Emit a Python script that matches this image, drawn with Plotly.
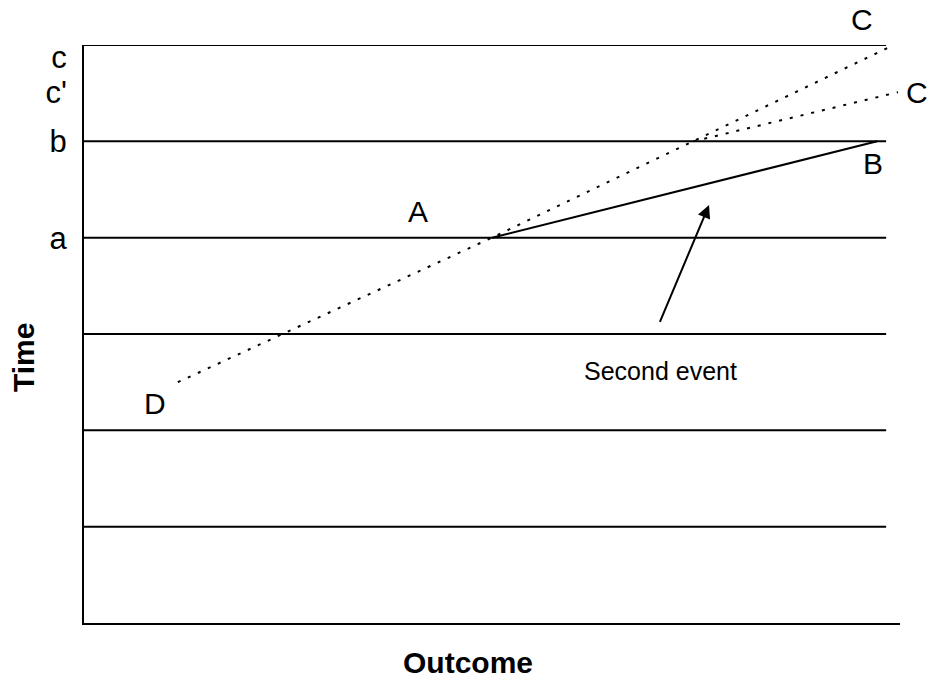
import plotly.graph_objects as go

# time levels drawn as horizontal rules (top one closes the frame)
time_levels = [1, 2, 3, 4, 5, 6]
grid_end = 9.83

# y-axis labels
tick_vals = [4, 5, 5.51, 5.87]
tick_text = ["a", "b", "c'", "c"]

# dotted path D -> A -> C (upper)
path_dca_x = [1.15, 5.0, 9.85]
path_dca_y = [2.5, 4.0, 5.97]

# dotted branch to the lower C
path_c2_x = [7.47, 9.975]
path_c2_y = [5.0, 5.51]

# solid second event A -> B
path_ab_x = [5.0, 9.72]
path_ab_y = [4.0, 5.0]

# point labels
label_text = ["C", "C", "B", "A", "D"]
label_x = [9.53, 10.21, 9.67, 4.09, 0.87]
label_y = [6.26, 5.51, 4.765, 4.267, 2.28]

X_MAX, Y_MAX = 10, 6
FONT = "Arial, Liberation Sans, sans-serif"
dotted = dict(color="black", width=2, dash="3px,8px")

fig = go.Figure()
fig.add_trace(go.Scatter(x=path_dca_x, y=path_dca_y, mode="lines", line=dotted,
                         hoverinfo="skip"))
fig.add_trace(go.Scatter(x=path_c2_x, y=path_c2_y, mode="lines", line=dotted,
                         hoverinfo="skip"))
fig.add_trace(go.Scatter(x=path_ab_x, y=path_ab_y, mode="lines",
                         line=dict(color="black", width=2), hoverinfo="skip"))

for lvl in time_levels:
    fig.add_shape(type="line", xref="x", yref="y", x0=0, x1=grid_end, y0=lvl, y1=lvl,
                  line=dict(color="black", width=2), layer="below")

# some labels sit outside the axis ranges, so place them in paper units
for t, x, y in zip(label_text, label_x, label_y):
    fig.add_annotation(x=x / X_MAX, y=y / Y_MAX, xref="paper", yref="paper", text=t,
                       showarrow=False, xanchor="center", yanchor="middle", borderpad=0,
                       font=dict(size=30, color="black", family=FONT))

fig.add_annotation(x=7.06, y=2.62, xref="x", yref="y", text="Second event",
                   showarrow=False, font=dict(size=25, color="black", family=FONT))

# arrow pointing at the second event line
fig.add_annotation(x=7.66, y=4.34, ax=7.05, ay=3.11, xref="x", yref="y",
                   axref="x", ayref="y", text="", showarrow=True, arrowhead=2,
                   arrowsize=1.3, arrowwidth=2, arrowcolor="black")

fig.add_annotation(x=0.4706, y=-0.068, xref="paper", yref="paper", text="<b>Outcome</b>",
                   showarrow=False, xanchor="center", yanchor="middle",
                   font=dict(size=30, color="black", family=FONT))
fig.add_annotation(x=-0.0735, y=0.4585, xref="paper", yref="paper", text="<b>Time</b>",
                   textangle=-90, showarrow=False, xanchor="center", yanchor="middle",
                   font=dict(size=30, color="black", family=FONT))

fig.update_layout(
    width=932, height=686,
    margin=dict(l=84, r=32, t=45, b=63),
    paper_bgcolor="white", plot_bgcolor="white",
    showlegend=False,
    font=dict(family=FONT, color="black"),
)
fig.update_xaxes(range=[0, X_MAX], showgrid=False, zeroline=False, showticklabels=False,
                 showline=True, linecolor="black", linewidth=2, ticks="")
fig.update_yaxes(range=[0, Y_MAX], showgrid=False, zeroline=False, showline=True,
                 linecolor="black", linewidth=2, ticks="", tickmode="array",
                 tickvals=tick_vals, ticktext=tick_text, ticklabelstandoff=9,
                 tickfont=dict(size=31, color="black", family=FONT))

# drop the page's default body margin so the figure sits at the window corner
fig.write_html("out.html", config={"displayModeBar": False},
               post_script="document.body.style.margin = '0';")
